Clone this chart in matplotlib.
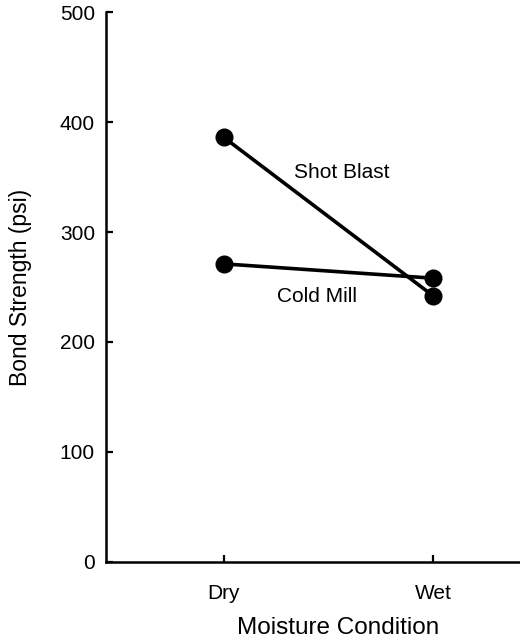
import matplotlib
matplotlib.use("Agg")
import matplotlib.pyplot as plt

plt.rcParams['font.family'] = ['Liberation Sans', 'DejaVu Sans']

conditions = ["Dry", "Wet"]
shot_blast = [386, 242]
cold_mill = [271, 258]
y_ticks = [0, 100, 200, 300, 400, 500]

fig = plt.figure(figsize=(5.2, 6.42), dpi=100)
ax = fig.add_axes([0.204, 0.125, 0.796, 0.856])

x = [1, 2]
ax.plot(x, shot_blast, color="black", lw=2.6, marker="o", ms=12, zorder=3)
ax.plot(x, cold_mill, color="black", lw=2.6, marker="o", ms=12, zorder=3)

ax.text(1.565, 354, "Shot Blast", fontsize=15, ha="center", va="center")
ax.text(1.445, 241, "Cold Mill", fontsize=15, ha="center", va="center")

ax.set_xlim(0.436, 2.416)
ax.set_ylim(0, 500)
ax.set_xticks(x)
ax.set_xticklabels(conditions)
ax.set_yticks(y_ticks)

for side in ["top", "right"]:
    ax.spines[side].set_visible(False)
for side in ["left", "bottom"]:
    ax.spines[side].set_linewidth(1.8)

ax.tick_params(axis="both", direction="in", length=5, width=1.6, labelsize=15)
ax.tick_params(axis="y", pad=8)
ax.tick_params(axis="x", pad=16)

ax.set_ylabel("Bond Strength (psi)", fontsize=16.5)
ax.yaxis.set_label_coords(-0.18, 0.5)
ax.set_xlabel("Moisture Condition", fontsize=17.5)
ax.xaxis.set_label_coords(0.56, -0.1)

fig.savefig("out.png", dpi=100)
